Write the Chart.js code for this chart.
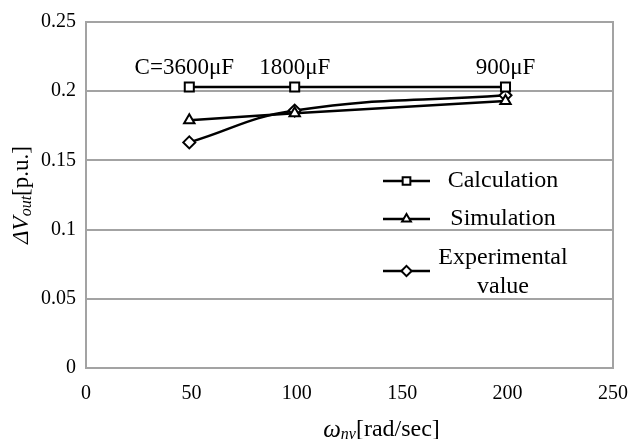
<!DOCTYPE html>
<html>
<head>
<meta charset="utf-8">
<script src="https://cdn.jsdelivr.net/npm/chart.js@4"></script>
<style>
  html, body { margin: 0; padding: 0; background: #fff; }
  #chart { display: block; }
</style>
</head>
<body>
<canvas id="chart" width="642" height="439"></canvas>
<script>
const omega = [49, 99, 199];
const calculation = [0.203, 0.203, 0.203];
const simulation = [0.179, 0.184, 0.193];
const experimental = [0.163, 0.186, 0.197];
const capLabels = ["C=3600μF", "1800μF", "900μF"];
const xTicks = [0, 50, 100, 150, 200, 250];
const yTicks = [0, 0.05, 0.1, 0.15, 0.2, 0.25];
const yTickLabels = ["0", "0.05", "0.1", "0.15", "0.2", "0.25"];
const seriesNames = ["Calculation", "Simulation", ["Experimental", "value"]];

const serif = "'Liberation Serif', 'Times New Roman', serif";
const gridGray = "#a3a3a3";

function pts(ys) {
    return omega.map((x, i) => ({ x: x, y: ys[i] }));
}

function makeSet(name, ys, style, rot, tension) {
    return {
        label: Array.isArray(name) ? name.join(" ") : name,
        data: pts(ys),
        borderColor: "#000",
        borderWidth: 2.5,
        pointStyle: style,
        pointRotation: rot,
        pointRadius: style === "rect" ? 6.4 : 6,
        pointBackgroundColor: "#fff",
        pointBorderColor: "#000",
        pointBorderWidth: 2,
        tension: tension,
        fill: false
    };
}

// draw a run of text pieces with different fonts, centred on x
function drawRich(ctx, parts, x, y) {
    let total = 0;
    parts.forEach(p => { ctx.font = p.font; total += ctx.measureText(p.text).width; });
    let cx = x - total / 2;
    ctx.textAlign = "left";
    ctx.textBaseline = "middle";
    parts.forEach(p => {
        ctx.font = p.font;
        ctx.fillText(p.text, cx, y + (p.dy || 0));
        cx += ctx.measureText(p.text).width;
    });
}

const decorations = {
    id: "decorations",
    beforeDatasetsDraw(chart) {
        const ctx = chart.ctx, a = chart.chartArea;
        ctx.save();
        ctx.strokeStyle = gridGray;
        ctx.lineWidth = 2;
        ctx.strokeRect(a.left, a.top, a.right - a.left, a.bottom - a.top);
        ctx.restore();
    },
    afterDraw(chart) {
        const ctx = chart.ctx, a = chart.chartArea;
        const xs = chart.scales.x, ys = chart.scales.y;
        ctx.save();
        ctx.fillStyle = "#000";

        // capacitor labels above the calculation points
        ctx.font = "23px " + serif;
        ctx.textAlign = "center";
        ctx.textBaseline = "middle";
        capLabels.forEach((t, i) => {
            ctx.fillText(t, xs.getPixelForValue(omega[i]) - (i === 0 ? 5 : 0), ys.getPixelForValue(0.2165));
        });

        // legend
        const lx0 = a.right - 230, lx1 = a.right - 183, tx = a.right - 110;
        const rows = [a.top + 159, a.top + 197, a.top + 249];
        chart.data.datasets.forEach((ds, i) => {
            const y = rows[i];
            ctx.strokeStyle = "#000";
            ctx.lineWidth = 2.5;
            ctx.beginPath();
            ctx.moveTo(lx0, y);
            ctx.lineTo(lx1, y);
            ctx.stroke();
            ctx.fillStyle = "#fff";
            ctx.lineWidth = 2;
            Chart.helpers.drawPoint(ctx, {
                pointStyle: ds.pointStyle,
                rotation: ds.pointRotation || 0,
                radius: ds.pointRadius * 0.85,
                borderWidth: 2
            }, (lx0 + lx1) / 2, y);
            ctx.fillStyle = "#000";
            ctx.font = "24px " + serif;
            ctx.textAlign = "center";
            ctx.textBaseline = "middle";
            const name = seriesNames[i];
            if (Array.isArray(name)) {
                ctx.fillText(name[0], tx, y - 13);
                ctx.fillText(name[1], tx, y + 16);
            } else {
                ctx.fillText(name, tx, y);
            }
        });

        // x axis title
        drawRich(ctx, [
            { text: "ω", font: "italic 25px " + serif },
            { text: "nv", font: "italic 16px " + serif, dy: 5 },
            { text: "[rad/sec]", font: "24px " + serif }
        ], (a.left + a.right) / 2 + 32, 430);

        // y axis title (rotated)
        ctx.translate(22, (a.top + a.bottom) / 2);
        ctx.rotate(-Math.PI / 2);
        drawRich(ctx, [
            { text: "ΔV", font: "italic 23px " + serif },
            { text: "out", font: "italic 16px " + serif, dy: 5 },
            { text: "[p.u.]", font: "23px " + serif }
        ], 0, 0);
        ctx.restore();
    }
};

new Chart(document.getElementById("chart"), {
    type: "line",
    data: {
        datasets: [
            makeSet(seriesNames[0], calculation, "rect", 0, 0),
            makeSet(seriesNames[1], simulation, "triangle", 0, 0),
            makeSet(seriesNames[2], experimental, "rectRot", 0, 0.45)
        ]
    },
    options: {
        responsive: false,
        animation: false,
        devicePixelRatio: 1,
        layout: { padding: { top: 18, right: 22, left: 0, bottom: 0 } },
        plugins: {
            legend: { display: false },
            tooltip: { enabled: false }
        },
        scales: {
            x: {
                type: "linear",
                min: 0,
                max: 250,
                afterFit: s => { s.height = 71; },
                afterBuildTicks: s => { s.ticks = xTicks.map(v => ({ value: v })); },
                grid: { display: false, drawTicks: false },
                border: { display: true, color: gridGray, width: 2 },
                ticks: {
                    padding: 14,
                    color: "#000",
                    font: { family: serif, size: 20 },
                    callback: v => String(v)
                }
            },
            y: {
                min: 0,
                max: 0.25,
                afterFit: s => { s.width = 86; },
                afterBuildTicks: s => { s.ticks = yTicks.map(v => ({ value: v })); },
                grid: { color: gridGray, lineWidth: 2, drawTicks: false },
                border: { display: true, color: gridGray, width: 2 },
                ticks: {
                    padding: 10,
                    color: "#000",
                    font: { family: serif, size: 20 },
                    callback: (v, i) => yTickLabels[yTicks.indexOf(v)] ?? String(v)
                }
            }
        }
    },
    plugins: [decorations]
});
</script>
</body>
</html>
